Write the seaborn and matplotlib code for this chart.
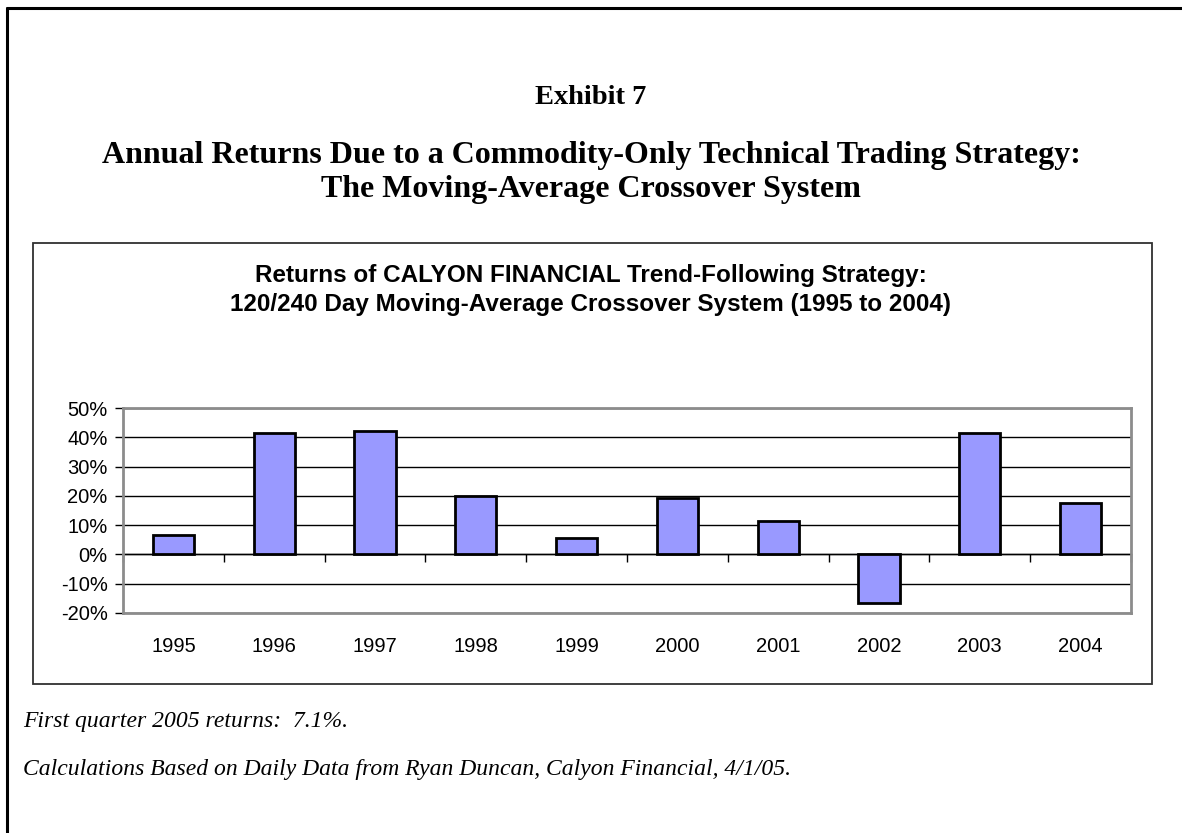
import numpy as np
import pandas as pd
import matplotlib
matplotlib.use("Agg")
import matplotlib.pyplot as plt
from matplotlib.patches import Rectangle
from matplotlib.lines import Line2D
from matplotlib.ticker import FuncFormatter
import seaborn as sns

years = ["1995", "1996", "1997", "1998", "1999", "2000", "2001", "2002", "2003", "2004"]
returns = [6.6, 41.5, 42.1, 20.0, 5.5, 19.3, 11.5, -16.7, 41.6, 17.6]
y_ticks = [-20, -10, 0, 10, 20, 30, 40, 50]

exhibit_title = "Exhibit 7"
main_title_1 = "Annual Returns Due to a Commodity-Only Technical Trading Strategy:"
main_title_2 = "The Moving-Average Crossover System"
chart_title = ("Returns of CALYON FINANCIAL Trend-Following Strategy:\n"
               "120/240 Day Moving-Average Crossover System (1995 to 2004)")
note_1 = "First quarter 2005 returns:  7.1%."
note_2 = "Calculations Based on Daily Data from Ryan Duncan, Calyon Financial, 4/1/05."

sns.set_theme(style="white")
plt.rcParams['font.family'] = ['Liberation Sans', 'DejaVu Sans']
plt.rcParams['text.color'] = 'black'
plt.rcParams['axes.labelcolor'] = 'black'
plt.rcParams['xtick.color'] = 'black'
plt.rcParams['ytick.color'] = 'black'

W, H = 1182, 833
fig = plt.figure(figsize=(W / 100, H / 100), dpi=100)
fig.patch.set_facecolor("white")

def fx(px):
    return px / W

def fy(py):
    return 1 - py / H

# outer border (left and top)
fig.add_artist(Line2D([fx(7), fx(7)], [fy(8), fy(833)], transform=fig.transFigure, color="black", lw=2.2))
fig.add_artist(Line2D([fx(7), fx(1182)], [fy(8), fy(8)], transform=fig.transFigure, color="black", lw=2.2))

# inner chart box
fig.add_artist(Rectangle((fx(33), fy(684)), fx(1152) - fx(33), fy(243) - fy(684),
                         transform=fig.transFigure, fill=False, edgecolor="#303030", lw=1.3))

serif = ['Liberation Serif', 'DejaVu Serif']
fig.text(0.5, fy(97), exhibit_title, ha="center", va="center", fontsize=20.5, fontweight="bold",
         family=serif, color="black")
fig.text(0.5, fy(155), main_title_1, ha="center", va="center", fontsize=23, fontweight="bold",
         family=serif, color="black")
fig.text(0.5, fy(190), main_title_2, ha="center", va="center", fontsize=23, fontweight="bold",
         family=serif, color="black")
fig.text(0.5, fy(290), chart_title, ha="center", va="center", fontsize=17.5, fontweight="bold",
         linespacing=1.38, family=['Liberation Sans', 'DejaVu Sans'], color="black")
fig.text(fx(23), fy(722), note_1, ha="left", va="center", fontsize=17, style="italic",
         family=serif, color="black")
fig.text(fx(23), fy(770), note_2, ha="left", va="center", fontsize=17, style="italic",
         family=serif, color="black")

left, right, top, bottom = 123, 1131, 408, 613
ax = fig.add_axes([fx(left), fy(bottom), fx(right) - fx(left), fy(top) - fy(bottom)])

df = pd.DataFrame({"year": years, "ret": returns})
sns.barplot(data=df, x="year", y="ret", ax=ax, color="#9999FF", saturation=1,
            edgecolor="black", linewidth=2, width=0.41, zorder=3)

ax.set_ylim(-20, 50)
ax.set_xlim(-0.5, len(years) - 0.5)
ax.set_yticks(y_ticks)
ax.yaxis.set_major_formatter(FuncFormatter(lambda v, p: f"{v:.0f}%"))
ax.set_xlabel("")
ax.set_ylabel("")
ax.grid(axis="y", color="black", lw=1)
ax.grid(axis="x", visible=False)
ax.set_axisbelow(True)
for s in ax.spines.values():
    s.set_color("#8c8c8c")
    s.set_linewidth(2)
    s.set_visible(True)
ax.tick_params(axis="y", direction="out", length=6, width=1, color="black",
               labelsize=14.5, pad=5, left=True, labelcolor="black")
ax.tick_params(axis="x", length=0, labelsize=14.5, pad=17, labelcolor="black")

# category axis at zero with boundary ticks
zero_pos = (0 - (-20)) / 70
sec = ax.secondary_xaxis(zero_pos)
sec.set_xticks(np.arange(-0.5, len(years), 1))
sec.set_xticklabels([])
sec.tick_params(axis="x", direction="out", length=6, width=1, color="black", bottom=True, top=False)
sec.spines["bottom"].set_color("black")
sec.spines["bottom"].set_linewidth(1)

fig.savefig("out.png", dpi=100, facecolor="white")
